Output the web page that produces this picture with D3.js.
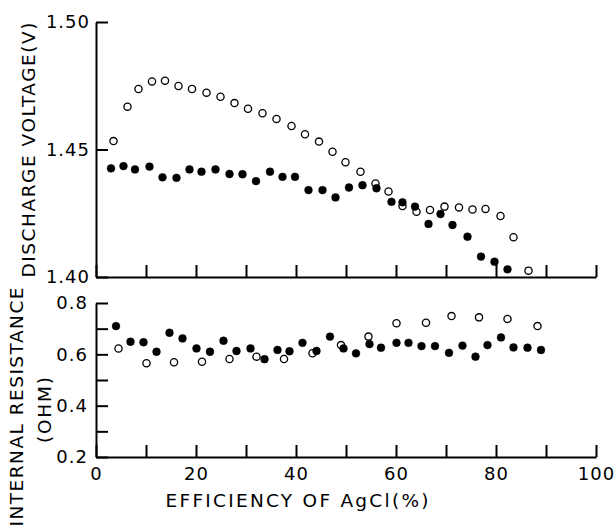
<!DOCTYPE html>
<html>
<head>
<meta charset="utf-8">
<script src="https://cdn.jsdelivr.net/npm/d3@7"></script>
<style>
  body { margin: 0; background: #fff; }
  svg { display: block; }
  text { font-family: "DejaVu Sans", sans-serif; fill: #000; }
  .axis path, .axis line { stroke: #000; stroke-width: 2; }
  .axis text { font-size: 18px; letter-spacing: 1px; }
</style>
</head>
<body>
<div id="chart"></div>
<script>
// discharge voltage, open circles
let voltOpenX = [3.5, 6.3, 8.5, 11.2, 13.8, 16.5, 19.2, 22.1, 24.9, 27.7, 30.4, 33.3, 36.1, 39.1, 41.8, 44.6,
  47.3, 49.9, 52.9, 55.9, 58.5, 61.3, 64.1, 66.8, 69.7, 72.6, 75.3, 77.9, 80.9, 83.5, 86.5];
let voltOpenY = [1.4533, 1.4668, 1.4737, 1.4767, 1.477, 1.4749, 1.4737, 1.4723, 1.4707, 1.4682, 1.466, 1.4642,
  1.462, 1.4592, 1.456, 1.4531, 1.4491, 1.445, 1.4413, 1.4367, 1.4335, 1.4278, 1.4256, 1.4263, 1.4276, 1.4273,
  1.4265, 1.4267, 1.4239, 1.4156, 1.4025];

// discharge voltage, filled circles
let voltFilledX = [3.0, 5.5, 7.8, 10.7, 13.3, 16.1, 18.7, 21.1, 23.9, 26.7, 29.3, 32.0, 34.8, 37.3, 39.8, 42.5,
  45.3, 47.9, 50.6, 53.3, 56.1, 59.1, 61.3, 63.8, 66.5, 68.9, 71.3, 74.3, 77.0, 79.7, 82.3];
let voltFilledY = [1.4426, 1.4435, 1.4422, 1.4433, 1.4391, 1.4389, 1.4422, 1.4413, 1.4422, 1.4404, 1.4403, 1.4376,
  1.4413, 1.4393, 1.4393, 1.4341, 1.4341, 1.4312, 1.4351, 1.436, 1.4348, 1.4295, 1.4293, 1.4276, 1.4208, 1.4247,
  1.4204, 1.4158, 1.408, 1.406, 1.403];

// internal resistance, open circles
let resOpenX = [4.5, 10.1, 15.6, 21.2, 26.7, 32.1, 37.6, 43.3, 49.0, 54.5, 60.1, 66.0, 71.1, 76.6, 82.3, 88.3];
let resOpenY = [0.623, 0.565, 0.569, 0.571, 0.582, 0.591, 0.582, 0.604, 0.636, 0.669, 0.721, 0.723, 0.749,
  0.744, 0.738, 0.710];

// internal resistance, filled circles
let resFilledX = [4.0, 6.9, 9.5, 12.1, 14.7, 17.3, 20.1, 22.8, 25.5, 28.1, 30.9, 33.7, 36.3, 38.7, 41.3, 44.1,
  46.8, 49.5, 52.0, 54.7, 57.0, 60.1, 62.5, 65.1, 67.8, 70.6, 73.3, 75.9, 78.3, 81.0, 83.5, 86.3, 89.0];
let resFilledY = [0.710, 0.649, 0.647, 0.610, 0.684, 0.662, 0.623, 0.610, 0.653, 0.613, 0.623, 0.581, 0.617,
  0.612, 0.645, 0.613, 0.669, 0.623, 0.604, 0.640, 0.626, 0.645, 0.645, 0.632, 0.632, 0.606, 0.634, 0.591,
  0.636, 0.666, 0.627, 0.626, 0.617];

let xTicks = [0, 10, 20, 30, 40, 50, 60, 70, 80, 90, 100];
let xLabels = [0, 20, 40, 60, 80, 100];
let voltTicks = [1.40, 1.45, 1.50];
let resTicks = [0.2, 0.3, 0.4, 0.5, 0.6, 0.7, 0.8];
let resLabels = [0.2, 0.4, 0.6, 0.8];

let width = 616;
let height = 530;
let tick = 12;

let svg = d3.select("#chart").append("svg")
  .attr("width", width)
  .attr("height", height);

let x = d3.scaleLinear().domain([0, 100]).range([96, 596]);
let yVolt = d3.scaleLinear().domain([1.40, 1.50]).range([277, 22]);
let yRes = d3.scaleLinear().domain([0.2, 0.8]).range([457, 303]);

// top panel axes
svg.append("g")
  .attr("class", "axis")
  .attr("transform", `translate(0, ${yVolt(1.40)})`)
  .call(d3.axisBottom(x).tickValues(xTicks).tickSize(-tick).tickSizeOuter(0).tickFormat(""));

svg.append("g")
  .attr("class", "axis")
  .attr("transform", `translate(${x(0)}, 0)`)
  .call(d3.axisLeft(yVolt).tickValues(voltTicks).tickSize(-tick).tickSizeOuter(0)
    .tickPadding(6).tickFormat(d3.format(".2f")));

// bottom panel axes
svg.append("g")
  .attr("class", "axis")
  .attr("transform", `translate(0, ${yRes(0.2)})`)
  .call(d3.axisBottom(x).tickValues(xTicks).tickSize(-tick).tickSizeOuter(0)
    .tickPadding(10)
    .tickFormat(function (d) { return xLabels.indexOf(d) >= 0 ? d : ""; }));

svg.append("g")
  .attr("class", "axis")
  .attr("transform", `translate(${x(0)}, 0)`)
  .call(d3.axisLeft(yRes).tickValues(resTicks).tickSize(-tick).tickSizeOuter(0)
    .tickPadding(8)
    .tickFormat(function (d) {
      return resLabels.some(function (v) { return Math.abs(v - d) < 1e-9; }) ? d3.format(".1f")(d) : "";
    }));

// markers
function drawPoints(xs, ys, yScale, filled) {
  svg.append("g")
    .selectAll("circle")
    .data(xs.map(function (d, i) { return [d, ys[i]]; }))
    .enter()
    .append("circle")
    .attr("cx", function (d) { return x(d[0]); })
    .attr("cy", function (d) { return yScale(d[1]); })
    .attr("r", filled ? 3.9 : 3.6)
    .attr("fill", filled ? "#000" : "#fff")
    .attr("stroke", "#000")
    .attr("stroke-width", filled ? 0.5 : 1.3);
}

drawPoints(voltOpenX, voltOpenY, yVolt, false);
drawPoints(voltFilledX, voltFilledY, yVolt, true);
drawPoints(resOpenX, resOpenY, yRes, false);
drawPoints(resFilledX, resFilledY, yRes, true);

// axis titles
function title(txt, cx, cy, len, rotate) {
  svg.append("text")
    .attr("transform", `translate(${cx}, ${cy})` + (rotate ? " rotate(-90)" : ""))
    .attr("text-anchor", "middle")
    .attr("dominant-baseline", "central")
    .attr("font-size", 18.5)
    .attr("textLength", len)
    .attr("lengthAdjust", "spacing")
    .text(txt);
}

title("DISCHARGE VOLTAGE(V)", 28, 150, 255, true);
title("INTERNAL RESISTANCE", 16, 407, 239, true);
title("(OHM)", 44, 410, 66, true);
title("EFFICIENCY OF AgCl(%)", 297, 500, 263, false);
</script>
</body>
</html>
